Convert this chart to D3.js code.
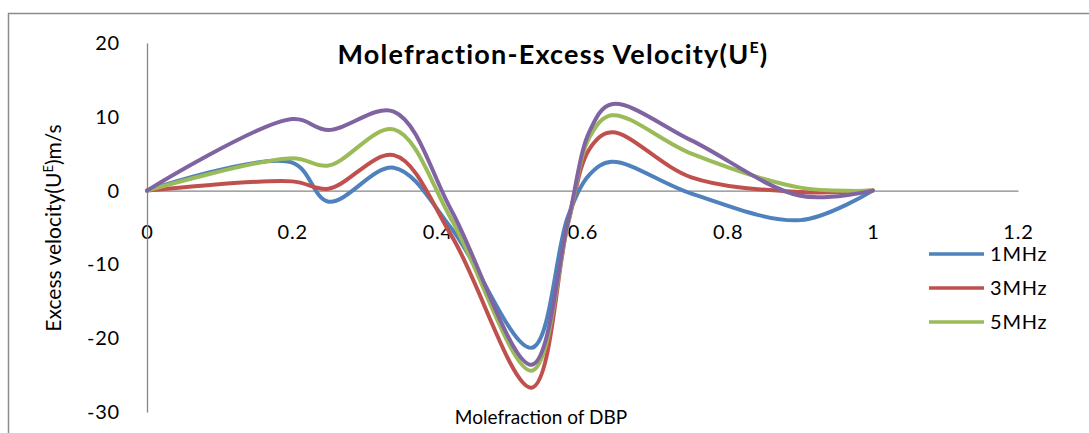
<!DOCTYPE html>
<html>
<head>
<meta charset="utf-8">
<script src="https://cdn.jsdelivr.net/npm/d3@7"></script>
<style>
  body { margin: 0; background: #fff; }
  svg { display: block; }
  text { font-family: Lato, "Open Sans", "Liberation Sans", sans-serif; fill: #000; }
</style>
</head>
<body>
<svg id="chart" width="1089" height="433"></svg>
<script>
// ---- data ----
const moleFraction = [0, 0.2, 0.25, 0.34, 0.42, 0.53, 0.58, 0.61, 0.64, 0.75, 0.9, 1];
const u1MHz = [0, 3.8, -1.5, 3.1, -5.2, -21.3, -3.5, 2.2, 3.9, -0.4, -4.0, 0];
const u3MHz = [0, 1.25, 0.25, 4.8, -6.2, -26.7, -4.5, 5.7, 7.9, 1.8, -0.2, 0];
const u5MHz = [0, 4.4, 3.4, 8.3, -4.0, -24.4, -4.5, 7.3, 10.2, 5.0, 0.4, 0];
const u7MHz = [0, 9.7, 8.2, 10.7, -2.8, -23.6, -4.2, 8.1, 11.7, 6.8, -0.7, 0];
const seriesNames = ["1MHz", "3MHz", "5MHz", "7MHz"];
const legendShown = ["1MHz", "3MHz", "5MHz"];
const xTickValues = [0, 0.2, 0.4, 0.6, 0.8, 1, 1.2];
const xTickLabels = ["0", "0.2", "0.4", "0.6", "0.8", "1", "1.2"];
const yTickValues = [20, 10, 0, -10, -20, -30];
const yTickLabels = ["20", "10", "0", "-10", "-20", "-30"];
const colors = ["#4F81BD", "#C0504D", "#9BBB59", "#8064A2"];

const seriesValues = [u1MHz, u3MHz, u5MHz, u7MHz];

const svg = d3.select("#chart");

// chart area border
svg.append("rect")
  .attr("x", 8.5).attr("y", 13.5)
  .attr("width", 1100).attr("height", 440)
  .attr("fill", "#fff").attr("stroke", "#8c8c8c").attr("stroke-width", 1.5);

const x = d3.scaleLinear().domain([0, 1.2]).range([147, 1018]);
const y = d3.scaleLinear().domain([-30, 20]).range([412, 43]);

// x axis at y = 0
const xAxis = svg.append("g")
  .attr("transform", `translate(0,${y(0)})`)
  .call(d3.axisBottom(x).tickValues(xTickValues)
    .tickFormat((d, i) => xTickLabels[i]).tickSize(0).tickPadding(34));
xAxis.select(".domain").attr("stroke", "#868686").attr("stroke-width", 1.3);
xAxis.selectAll("text").attr("font-size", 20).attr("letter-spacing", 0.8)
  .attr("font-family", "Lato, sans-serif").attr("fill", "#000");

// y axis
const yAxis = svg.append("g")
  .attr("transform", `translate(${x(0)},0)`)
  .call(d3.axisLeft(y).tickValues(yTickValues)
    .tickFormat((d, i) => yTickLabels[i]).tickSize(0).tickPadding(27));
yAxis.select(".domain").attr("stroke", "#868686").attr("stroke-width", 1.3);
yAxis.selectAll("text").attr("font-size", 20).attr("letter-spacing", 0.8)
  .attr("font-family", "Lato, sans-serif").attr("fill", "#000");

// lines
const line = d3.line()
  .x((d, i) => x(moleFraction[i]))
  .y(d => y(d))
  .curve(d3.curveCatmullRom.alpha(0.5));

svg.append("g").selectAll("path")
  .data(seriesValues)
  .join("path")
  .attr("d", d => line(d))
  .attr("fill", "none")
  .attr("stroke", (d, i) => colors[i])
  .attr("stroke-width", 4)
  .attr("stroke-linejoin", "round")
  .attr("stroke-linecap", "round");

// title
const title = svg.append("text")
  .attr("x", 553).attr("y", 64)
  .attr("text-anchor", "middle")
  .attr("font-size", 27).attr("font-weight", "bold").attr("letter-spacing", 1.2);
title.append("tspan").text("Molefraction-Excess Velocity(U");
title.append("tspan").attr("font-size", 16).attr("dy", -11).text("E");
title.append("tspan").attr("dy", 11).text(")");

// x axis title
svg.append("text")
  .attr("x", 541).attr("y", 424)
  .attr("text-anchor", "middle")
  .attr("font-size", 19)
  .text("Molefraction of DBP");

// y axis title
const yt = svg.append("text")
  .attr("transform", "translate(61,228) rotate(-90)")
  .attr("text-anchor", "middle")
  .attr("font-size", 21);
yt.append("tspan").text("Excess velocity(U");
yt.append("tspan").attr("font-size", 13).attr("dy", -8).text("E");
yt.append("tspan").attr("dy", 8).text(")m/s");

// legend
const legend = svg.append("g");
const lg = legend.selectAll("g")
  .data(legendShown)
  .join("g")
  .attr("transform", (d, i) => `translate(929,${254 + i * 34})`);
lg.append("line")
  .attr("x1", 0).attr("x2", 55).attr("y1", 0).attr("y2", 0)
  .attr("stroke", (d) => colors[seriesNames.indexOf(d)])
  .attr("stroke-width", 3.5);
lg.append("text")
  .attr("x", 61).attr("y", 0).attr("dy", "0.35em")
  .attr("font-size", 20).attr("letter-spacing", 0.8)
  .text(d => d);
</script>
</body>
</html>
